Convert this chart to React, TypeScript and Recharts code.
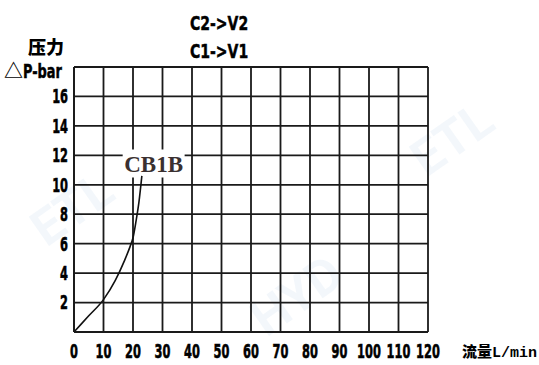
import { LineChart, Line, XAxis, YAxis, CartesianGrid, ReferenceArea } from 'recharts'

// flow (L/min) vs pressure drop (bar)
const flow = [0, 5, 10, 14, 17, 19, 20, 21, 22, 23]
const pressure = [0, 1.1, 2.2, 3.5, 4.8, 5.8, 6.4, 7.5, 8.8, 10.6]

const xTicks = [0, 10, 20, 30, 40, 50, 60, 70, 80, 90, 100, 110, 120]
const yTicks = [0, 2, 4, 6, 8, 10, 12, 14, 16, 18]

const CURVE_NAME = 'CB1B'
const TITLE_TOP = 'C2->V2'
const TITLE_BOTTOM = 'C1->V1'
const Y_NAME_CN = '压力'
const Y_NAME = '△P-bar'
const X_NAME_CN = '流量'
const X_NAME_UNIT = 'L/min'

const heavy = '"DejaVu Sans", sans-serif'
const cjk = '"Noto Sans CJK SC", sans-serif'

// squeezed bold tick text, the original uses a narrow heavy face
const NarrowTick = (props: any) => {
  const { x, y, payload, anchor, fmt, size } = props
  const label = fmt ? fmt(payload.value) : String(payload.value)
  return (
    <g transform={`translate(${x},${y}) scale(0.6,1)`}>
      <text x={0} y={0} dy="0.36em" textAnchor={anchor} fill="#000" fontSize={size}
        fontWeight={700} fontFamily={heavy} stroke="#000" strokeWidth={0.6}>{label}</text>
    </g>
  )
}

export default function App() {
  const data = flow.map((f, i) => ({ flow: f, p: pressure[i] }))

  const squeezed = (size: number, sx: number): React.CSSProperties => ({
    display: 'inline-block', fontSize: size, fontWeight: 700, fontFamily: heavy,
    transform: `scaleX(${sx})`, transformOrigin: 'left top', lineHeight: 1,
    WebkitTextStroke: '0.5px #000'
  })
  const at = (left: number, top: number): React.CSSProperties => ({
    position: 'absolute', left, top, color: '#000', whiteSpace: 'nowrap', lineHeight: 1
  })
  const mark: React.CSSProperties = {
    position: 'absolute', fontSize: 50, fontWeight: 700, fontFamily: 'Roboto, sans-serif',
    color: 'rgba(190,210,235,0.18)', transform: 'rotate(-35deg)', transformOrigin: 'left top'
  }

  return (
    <div style={{ position: 'absolute', left: 0, top: 0, width: 539, height: 365, background: '#fff', overflow: 'hidden' }}>
      <div style={{ ...mark, left: 20, top: 210 }}>ETL</div>
      <div style={{ ...mark, left: 400, top: 140 }}>ETL</div>
      <div style={{ ...mark, left: 240, top: 300 }}>HYD</div>

      <LineChart width={539} height={365} data={data}
        margin={{ top: 67, right: 111, left: 34, bottom: 0 }}
        style={{ position: 'absolute', left: 0, top: 0 }}>
        <CartesianGrid stroke="#1a1a1a" strokeWidth={1.8} strokeOpacity={1} />
        <XAxis dataKey="flow" type="number" domain={[0, 120]} ticks={xTicks} interval={0}
          height={33} tickLine={false} tickSize={0} tickMargin={19}
          axisLine={{ stroke: '#1a1a1a', strokeWidth: 1.8 }}
          tick={<NarrowTick anchor="middle" size={19} />} />
        <YAxis type="number" domain={[0, 18]} ticks={yTicks} interval={0} width={40}
          tickLine={false} tickSize={0} tickMargin={6}
          axisLine={{ stroke: '#1a1a1a', strokeWidth: 1.8 }}
          tick={<NarrowTick anchor="end" size={19}
            fmt={(v: number) => (v === 0 || v === 18 ? '' : String(v))} />} />
        <ReferenceArea x1={16.5} x2={37.5} y1={10.5} y2={12.4} fill="#fff" fillOpacity={1} stroke="none"
          ifOverflow="visible"
          label={{ value: CURVE_NAME, position: 'center', fill: '#3a3030', fontSize: 23, fontWeight: 700,
            fontFamily: '"Liberation Serif", "DejaVu Serif", serif' }} />
        <Line dataKey="p" type="monotone" stroke="#111" strokeWidth={1.6} dot={false}
          isAnimationActive={false} />
      </LineChart>

      <div style={at(190, 13)}><span style={squeezed(20, 0.7)}>{TITLE_TOP}</span></div>
      <div style={at(190, 41)}><span style={squeezed(20, 0.7)}>{TITLE_BOTTOM}</span></div>
      <div style={{ ...at(28, 37), fontFamily: cjk, fontWeight: 900, fontSize: 18 }}>{Y_NAME_CN}</div>
      <div style={at(4, 60)}>
        <span style={{ fontFamily: cjk, fontSize: 19, fontWeight: 700 }}>{Y_NAME[0]}</span>
        <span style={squeezed(19, 0.68)}>{Y_NAME.slice(1)}</span>
      </div>
      <div style={{ ...at(462, 343), fontSize: 15, fontWeight: 900 }}>
        <span style={{ fontFamily: cjk }}>{X_NAME_CN}</span>
        <span style={{ fontFamily: '"Liberation Mono", monospace', fontWeight: 700 }}>{X_NAME_UNIT}</span>
      </div>
    </div>
  )
}
